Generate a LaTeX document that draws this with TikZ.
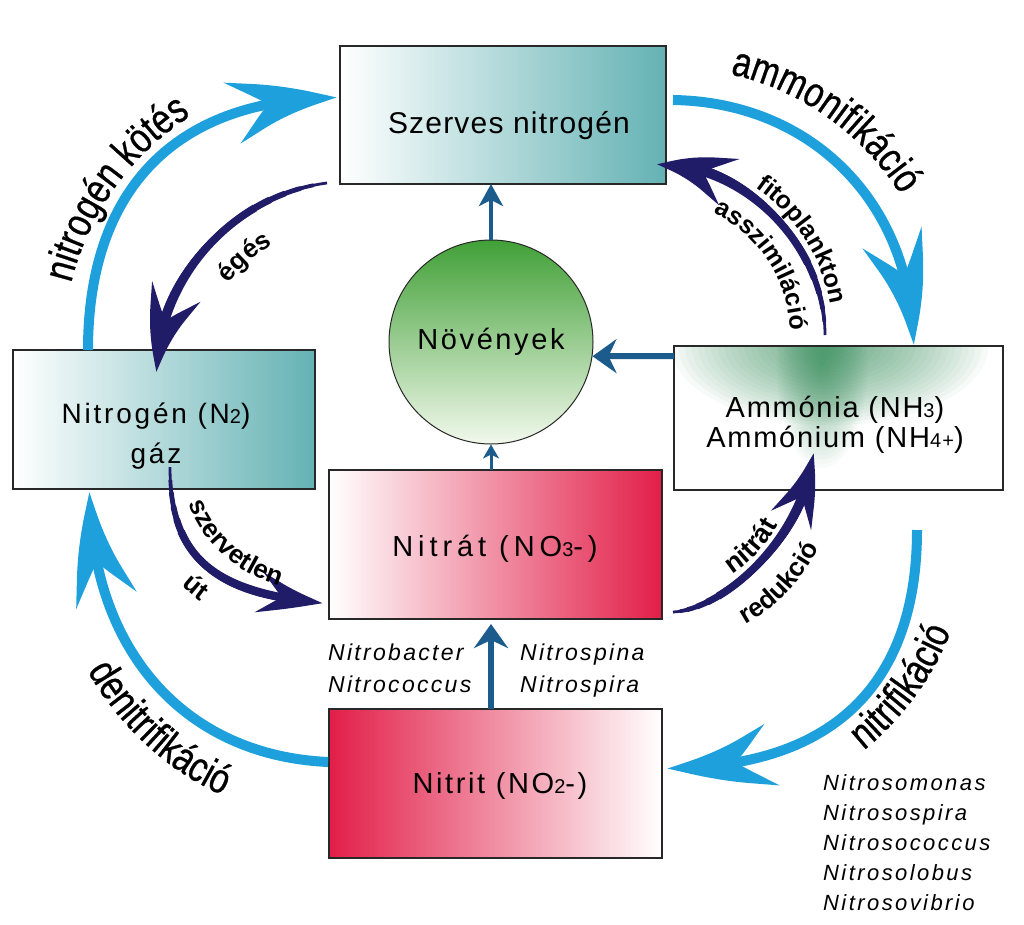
\documentclass[tikz,border=0pt]{standalone}
\usepackage{fontspec}
\setmainfont{Liberation Sans}
\setsansfont{Liberation Sans}
\newfontfamily\boxfont{Liberation Sans}
\newfontfamily\arcfont{Liberation Sans}[FakeStretch=0.8,FakeBold=0.6]
\newfontfamily\spfont{Liberation Sans}[LetterSpace=10]
\usetikzlibrary{arrows.meta,bending,decorations.text,calc}
\definecolor{lblue}{RGB}{30,160,220}
\definecolor{navy}{RGB}{32,28,104}
\definecolor{steel}{RGB}{28,92,140}
\definecolor{tealbox}{RGB}{100,178,180}
\definecolor{crimson}{RGB}{226,30,72}
\definecolor{boxline}{RGB}{40,40,40}
\definecolor{glow}{RGB}{45,140,85}
\definecolor{leafgreen}{RGB}{65,160,55}
\definecolor{palegreen}{RGB}{242,249,236}
\newcommand\lsp[1]{\addfontfeature{LetterSpace=#1}}
\newcommand\smd[1]{{\fontsize{20}{20}\selectfont #1}}
% draw the part t..1 of a cubic curve: P0, P1, P2, P3, t, options
\newcommand\splitdraw[6]{%
  \pgfmathsetmacro\sa{(1-#5)^3}\pgfmathsetmacro\sb{3*(1-#5)^2*#5}%
  \pgfmathsetmacro\sc{3*(1-#5)*#5^2}\pgfmathsetmacro\sd{#5^3}%
  \pgfmathsetmacro\se{(1-#5)^2}\pgfmathsetmacro\sf{2*(1-#5)*#5}\pgfmathsetmacro\sg{#5^2}%
  \pgfmathsetmacro\sh{1-#5}%
  \draw[navy,#6] ($\sa*(#1)+\sb*(#2)+\sc*(#3)+\sd*(#4)$) .. controls ($\se*(#2)+\sf*(#3)+\sg*(#4)$) and ($\sh*(#3)+#5*(#4)$) .. (#4);%
}
% tapered navy arrow: start, control 1, control 2, end, tip length, tip width, tip inset
\newcommand\navyarrow[7]{%
  \draw[navy, line width=2.8pt, shorten >=20pt] (#1) .. controls (#2) and (#3) .. (#4);
  \splitdraw{#1}{#2}{#3}{#4}{0.05}{line width=3.8pt, line cap=round, shorten >=20pt}
  \splitdraw{#1}{#2}{#3}{#4}{0.10}{line width=4.8pt, line cap=round, shorten >=20pt}
  \splitdraw{#1}{#2}{#3}{#4}{0.16}{line width=5.8pt, line cap=round, shorten >=20pt}
  \splitdraw{#1}{#2}{#3}{#4}{0.22}{line width=6.8pt, line cap=round, shorten >=20pt}
  \splitdraw{#1}{#2}{#3}{#4}{0.28}{line width=7.6pt, -{Stealth[length=#5,width=#6,inset=#7,bend]}}
}
\begin{document}
\begin{tikzpicture}[x=1pt,y=-1pt,
  box/.style={draw=boxline, line width=1.2pt, inner sep=0pt, outer sep=0pt},
  lbl/.style={inner sep=0pt, anchor=base, align=center, font=\boxfont\fontsize{29}{30}\selectfont},
  sp/.style={inner sep=0pt, align=left, anchor=base west, font=\spfont\itshape\fontsize{23}{32}\selectfont},
  cyanarr/.style={draw=lblue, line width=10pt, -{Stealth[length=115pt,width=62pt,inset=42pt,bend]}},
  steelarr/.style={draw=steel, -{Stealth[length=24pt,width=34pt,inset=8pt]}},
  arclbl/.style={decorate, decoration={text along path, text align=center, text={#1}}},
]
\fill[white] (0,0) rectangle (1024,924);
\useasboundingbox (0,0) rectangle (1024,924);

% boxes
\node[box, minimum width=326pt, minimum height=138pt, left color=white, right color=tealbox] (szerves) at (503,115) {};
\node[box, minimum width=302pt, minimum height=139pt, left color=white, right color=tealbox] (n2) at (164,419.5) {};
\node[box, minimum width=329pt, minimum height=144pt, fill=white] (amm) at (838.5,418) {};
\node[box, minimum width=333pt, minimum height=149pt, left color=white, right color=crimson] (nitrat) at (495.5,544.5) {};
\node[box, minimum width=333pt, minimum height=149pt, left color=crimson, right color=white] (nitrit) at (495.5,783.5) {};
\node[circle, draw=boxline, line width=1pt, minimum size=204pt, inner sep=0pt, top color=leafgreen, bottom color=palegreen, font=\boxfont\fontsize{29}{30}\selectfont] (nov) at (491,342) {\lsp{9}Növények};

% glow in the ammonia box
\begin{scope}
  \clip (amm.north west) rectangle (amm.south east);
  \foreach \i in {1,...,24}{
    \fill[glow, fill opacity=0.04] (830,346) ellipse[x radius={6.6pt*\i}, y radius={3.3pt*\i}];
    \fill[glow, fill opacity=0.028] (822,365) ellipse[x radius={1.9pt*\i}, y radius={4.3pt*\i}];
  }
\end{scope}
\draw[boxline, line width=1.2pt] (amm.north west) rectangle (amm.south east);

% box texts
\node[lbl] (szt) at (509,133) {\lsp{4}\fontsize{30}{30}\selectfont Szerves nitrogén};
\node[lbl, font=\boxfont\fontsize{28}{40}\selectfont] (n2t) at (156,463) {\lsp{10}Nitrogén (N\smd{2})\\\lsp{10}gáz};
\node[lbl] (ammt) at (835,447) {\lsp{6}Ammónia (NH\smd{3})\\\lsp{6}Ammónium (NH\smd{4+})};
\node[lbl] (nitt) at (495,556) {\lsp{17}Nitrát (NO\smd{3}-)};
\node[lbl] (nitrt) at (500,793) {\lsp{9}Nitrit (NO\smd{2}-)};

% species
\node[sp] (sp1) at (328,692) {Nitrobacter\\Nitrococcus};
\node[sp] (sp2) at (520,692) {Nitrospina\\Nitrospira};
\node[sp, font=\spfont\itshape\lsp{11}\fontsize{22}{30}\selectfont] (sp3) at (823,910) {Nitrosomonas\\Nitrosospira\\Nitrosococcus\\Nitrosolobus\\Nitrosovibrio};

% straight arrows
\coordinate (a-nov) at ($(amm.north west)+(0,10)$);
\draw[steelarr, line width=4pt, -{Stealth[length=22pt,width=24pt,inset=6pt]}] (nov.north) -- (nov.north |- szerves.south);
\draw[steelarr, line width=6pt] (a-nov) -- (nov.-8);
\draw[steelarr, line width=3pt, -{Stealth[length=14pt,width=16pt,inset=4pt]}] (nov.south |- nitrat.north) -- (nov.south);
\draw[steelarr, line width=6pt, shorten >=5pt] (nov.south |- nitrit.north) -- (nov.south |- nitrat.south);

% light blue cycle arrows
\coordinate (nk-s) at (88,350); \coordinate (nk-e) at (337,98);
\draw[cyanarr] (nk-s) .. controls (88,190) and (175,98) .. (nk-e);
\coordinate (am-s) at (673,100); \coordinate (am-e) at (913,345);
\draw[cyanarr] (am-s) .. controls (813,102) and (913,205) .. (am-e);
\coordinate (ni-s) at (917,530); \coordinate (ni-e) at (667,768);
\draw[cyanarr] (ni-s) .. controls (917,690) and (827,768) .. (ni-e);
\coordinate (de-s) at (328,762); \coordinate (de-e) at (90,492);
\draw[cyanarr] (de-s) .. controls (178,755) and (90,642) .. (de-e);

% navy arrows
\coordinate (eg-s) at (327,183); \coordinate (eg-c1) at (235,195); \coordinate (eg-c2) at (160,275); \coordinate (eg-e) at (157,372);
\navyarrow{eg-s}{eg-c1}{eg-c2}{eg-e}{85pt}{52pt}{32pt}
\coordinate (fi-s) at (825,335); \coordinate (fi-c1) at (825,245); \coordinate (fi-c2) at (745,165); \coordinate (fi-e) at (657,165);
\navyarrow{fi-s}{fi-c1}{fi-c2}{fi-e}{75pt}{50pt}{28pt}
\coordinate (sz-s) at (170,467); \coordinate (sz-c1) at (170,560); \coordinate (sz-c2) at (216,592); \coordinate (sz-e) at (323,603);
\navyarrow{sz-s}{sz-c1}{sz-c2}{sz-e}{70pt}{40pt}{26pt}
\coordinate (nr-s) at (673,612); \coordinate (nr-c1) at (720,610); \coordinate (nr-c2) at (800,545); \coordinate (nr-e) at (813,453);
\navyarrow{nr-s}{nr-c1}{nr-c2}{nr-e}{73pt}{44pt}{27pt}

% curved labels
\path[arclbl={|\arcfont\fontsize{42}{42}\selectfont|nitrogén kötés}] plot[domain=170:262,samples=60] ({337+274*cos(\x)},{350+277*sin(\x)});
\path[arclbl={|\arcfont\fontsize{42}{42}\selectfont|ammonifikáció}] plot[domain=258:351,samples=60] ({673+271*cos(\x)},{345+277*sin(\x)});
\path[arclbl={|\arcfont\fontsize{42}{42}\selectfont|nitrifikáció}] plot[domain=0:81,samples=60] ({667+303*cos(75-\x)},{530+290*sin(75-\x)});
\path[arclbl={|\arcfont\fontsize{42}{42}\selectfont|denitrifikáció}] plot[domain=0:95,samples=60] ({328+288*cos(175-\x)},{492+326*sin(175-\x)});
\path[arclbl={|\sffamily\bfseries\fontsize{26}{26}\selectfont|égés}] plot[domain=200:265,samples=40] ({327+126*cos(\x)},{372+141*sin(\x)});
\path[arclbl={|\sffamily\bfseries\fontsize{25}{25}\selectfont|fitoplankton}] plot[domain=290:364,samples=50] ({657+176*cos(\x)},{335+178*sin(\x)});
\path[arclbl={|\sffamily\bfseries\fontsize{25}{25}\selectfont|asszimiláció}] plot[domain=285:368,samples=50] ({657+133*cos(\x)},{335+135*sin(\x)});
\path[arclbl={|\sffamily\bfseries\fontsize{26}{26}\selectfont|szervetlen}] plot[domain=0:110,samples=50] ({323+140*cos(192-\x)},{467+125*sin(192-\x)});
\path[arclbl={|\sffamily\bfseries\fontsize{26}{26}\selectfont|út}] plot[domain=0:53,samples=30] ({323+194*cos(160-\x)},{467+173*sin(160-\x)});
\path[arclbl={|\sffamily\bfseries\fontsize{27}{27}\selectfont|nitrát}] plot[domain=0:66,samples=40] ({673+123*cos(80-\x)},{453+138*sin(80-\x)});
\path[arclbl={|\sffamily\bfseries\fontsize{26}{26}\selectfont|redukció}] plot[domain=0:70,samples=40] ({673+168*cos(83-\x)},{453+190*sin(83-\x)});
\end{tikzpicture}
\end{document}
